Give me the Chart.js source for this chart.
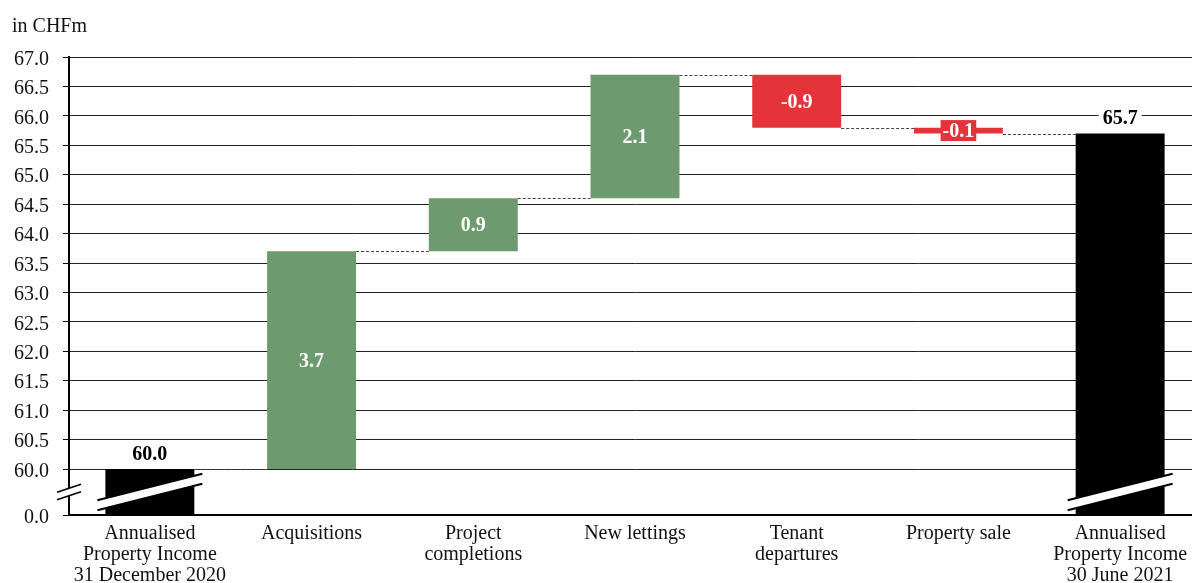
<!DOCTYPE html>
<html><head><meta charset="utf-8">
<script src="https://cdn.jsdelivr.net/npm/chart.js@4/dist/chart.umd.min.js"></script>
<style>
html,body{margin:0;padding:0;overflow:hidden;background:#fff}
#wrap{position:relative;width:1201px;height:583px}
</style></head><body>
<div id="wrap"><canvas id="c"></canvas></div>
<script>
// ---- data ----
const categories = [
  ["Annualised", "Property Income", "31 December 2020"],
  "Acquisitions",
  ["Project", "completions"],
  "New lettings",
  ["Tenant", "departures"],
  "Property sale",
  ["Annualised", "Property Income", "30 June 2021"]
];
const changes = [60.0, 3.7, 0.9, 2.1, -0.9, -0.1, 65.7];
const kinds = ["total", "delta", "delta", "delta", "delta", "delta", "total"];
const yTickValues = [0, 60, 60.5, 61, 61.5, 62, 62.5, 63, 63.5, 64, 64.5, 65, 65.5, 66, 66.5, 67];
const unitLabel = "in CHFm";
const breakHigh = 60;   // axis is broken between 0 and this value
const yMax = 67;

// ---- styles ----
const FONT = '"Liberation Serif", "Times New Roman", serif';
const GREEN = '#6e9a6f', RED = '#e5333a', BLACK = '#000000';
const BREAK_FRAC = 0.1004; // share of axis height used by the 0..60 break zone

// floating ranges from running total
let run = 0;
const levels = [];
const ranges = changes.map((v, i) => {
  if (kinds[i] === 'total') { run = v; levels.push(run); return [0, v]; }
  const s = run; run = Math.round((run + v) * 10) / 10; levels.push(run); return [s, run];
});
const colors = changes.map((v, i) => kinds[i] === 'total' ? BLACK : (v >= 0 ? GREEN : RED));

class BrokenLinearScale extends Chart.LinearScale {
  static id = 'brokenLinear';
  buildTicks() { this.min = 0; this.max = yMax; return yTickValues.map(v => ({ value: v })); }
  _dec(v) {
    return v <= breakHigh ? (v / breakHigh) * BREAK_FRAC
      : BREAK_FRAC + (v - breakHigh) / (yMax - breakHigh) * (1 - BREAK_FRAC);
  }
  getPixelForValue(v) {
    if (v === null || v === undefined || isNaN(v)) return NaN;
    return this.getPixelForDecimal(this._dec(v));
  }
  getValueForPixel(p) {
    const d = this.getDecimalForPixel(p);
    return d <= BREAK_FRAC ? d / BREAK_FRAC * breakHigh
      : breakHigh + (d - BREAK_FRAC) / (1 - BREAK_FRAC) * (yMax - breakHigh);
  }
  _computeLabelItems(area) {
    const items = super._computeLabelItems(area);
    items.forEach(it => { it.textOffset = (it.textOffset || 0) + 2.5; });
    return items;
  }
}
Chart.register(BrokenLinearScale);

const decorPlugin = {
  id: 'decor',
  afterDatasetsDraw(chart) {
    const ctx = chart.ctx;
    const meta = chart.getDatasetMeta(0);
    const y = chart.scales.y;
    const els = meta.data;
    ctx.save();
    // connectors
    ctx.strokeStyle = '#444'; ctx.lineWidth = 1; ctx.setLineDash([3, 2]);
    for (let i = 0; i < els.length - 1; i++) {
      const a = els[i], b = els[i + 1];
      const py = Math.round(y.getPixelForValue(levels[i])) + 0.5;
      ctx.beginPath();
      ctx.moveTo(a.x + a.width / 2, py);
      ctx.lineTo(b.x - b.width / 2, py);
      ctx.stroke();
    }
    ctx.setLineDash([]);
    // break stripes on total bars
    const yMid = (y.getPixelForValue(0) + y.getPixelForValue(breakHigh)) / 2;
    els.forEach((el, i) => {
      if (kinds[i] !== 'total') return;
      const half = el.width / 2 + 8, slope = -0.252, off = 5;
      const x0 = el.x - half, x1 = el.x + half;
      const y0 = yMid - slope * half, y1 = yMid + slope * half;
      ctx.fillStyle = '#fff';
      ctx.beginPath();
      ctx.moveTo(x0, y0 - off); ctx.lineTo(x1, y1 - off); ctx.lineTo(x1, y1 + off); ctx.lineTo(x0, y0 + off);
      ctx.closePath(); ctx.fill();
      ctx.strokeStyle = '#000'; ctx.lineWidth = 2;
      ctx.beginPath(); ctx.moveTo(x0, y0 - off); ctx.lineTo(x1, y1 - off); ctx.stroke();
      ctx.beginPath(); ctx.moveTo(x0, y0 + off); ctx.lineTo(x1, y1 + off); ctx.stroke();
    });
    // y-axis break marks
    const ax = chart.chartArea.left;
    const hw = 12, sl = -1 / 3, o = 3.8;
    ctx.fillStyle = '#fff';
    ctx.beginPath();
    ctx.moveTo(ax - hw, yMid - sl * hw - o); ctx.lineTo(ax + hw, yMid + sl * hw - o);
    ctx.lineTo(ax + hw, yMid + sl * hw + o); ctx.lineTo(ax - hw, yMid - sl * hw + o);
    ctx.closePath(); ctx.fill();
    ctx.strokeStyle = '#000'; ctx.lineWidth = 1.5;
    [-o, o].forEach(d => {
      ctx.beginPath(); ctx.moveTo(ax - hw, yMid - sl * hw + d); ctx.lineTo(ax + hw, yMid + sl * hw + d); ctx.stroke();
    });
    // value labels
    ctx.font = 'bold 20px ' + FONT;
    ctx.textAlign = 'center'; ctx.textBaseline = 'middle';
    els.forEach((el, i) => {
      const v = changes[i];
      const txt = v.toFixed(1);
      const top = Math.min(el.y, el.base), bot = Math.max(el.y, el.base);
      const tw = ctx.measureText(txt).width;
      if (kinds[i] === 'total') {
        const ty = top - 16;
        ctx.fillStyle = '#fff';
        ctx.fillRect(el.x - tw / 2 - 4, ty - 10, tw + 8, 20);
        ctx.fillStyle = '#000';
        ctx.fillText(txt, el.x, ty + 1.5);
      } else {
        const cy = (top + bot) / 2;
        if (bot - top < 22) {
          ctx.fillStyle = colors[i];
          ctx.fillRect(el.x - tw / 2 - 2, cy - 10.5, tw + 4, 21);
        }
        ctx.fillStyle = '#fff';
        ctx.fillText(txt, el.x, cy + 1.5);
      }
    });
    // unit label
    ctx.font = '20px ' + FONT;
    ctx.textAlign = 'left'; ctx.textBaseline = 'alphabetic';
    ctx.fillStyle = '#111';
    ctx.fillText(unitLabel, 12, 32);
    ctx.restore();
  }
};

new Chart(document.getElementById('c'), {
  type: 'bar',
  data: {
    labels: categories,
    datasets: [{
      data: ranges,
      backgroundColor: colors,
      borderWidth: 0,
      barPercentage: 1,
      categoryPercentage: 0.55
    }]
  },
  options: {
    responsive: true, maintainAspectRatio: false, animation: false, events: [],
    layout: { padding: { top: 57, left: 0, right: 0, bottom: 0 } },
    plugins: { legend: { display: false }, tooltip: { enabled: false } },
    scales: {
      x: {
        type: 'category', offset: true,
        grid: { display: false, drawTicks: false, tickLength: 0 },
        border: { display: true, color: '#000', width: 2 },
        ticks: { color: '#111', font: { family: FONT, size: 20, lineHeight: 1.05 }, padding: 8, maxRotation: 0, autoSkip: false },
        afterFit(s) { s.height = 68; }
      },
      y: {
        type: 'brokenLinear', min: 0, max: yMax,
        grid: { color: '#222', lineWidth: 1, drawTicks: true, tickLength: 6, tickColor: '#000' },
        border: { display: true, color: '#000', width: 2 },
        ticks: { color: '#111', font: { family: FONT, size: 20 }, padding: 14, autoSkip: false,
                 callback: (v) => Number(v).toFixed(1) },
        afterFit(s) { s.width = 69; }
      }
    }
  },
  plugins: [decorPlugin]
});
</script>
</body></html>
